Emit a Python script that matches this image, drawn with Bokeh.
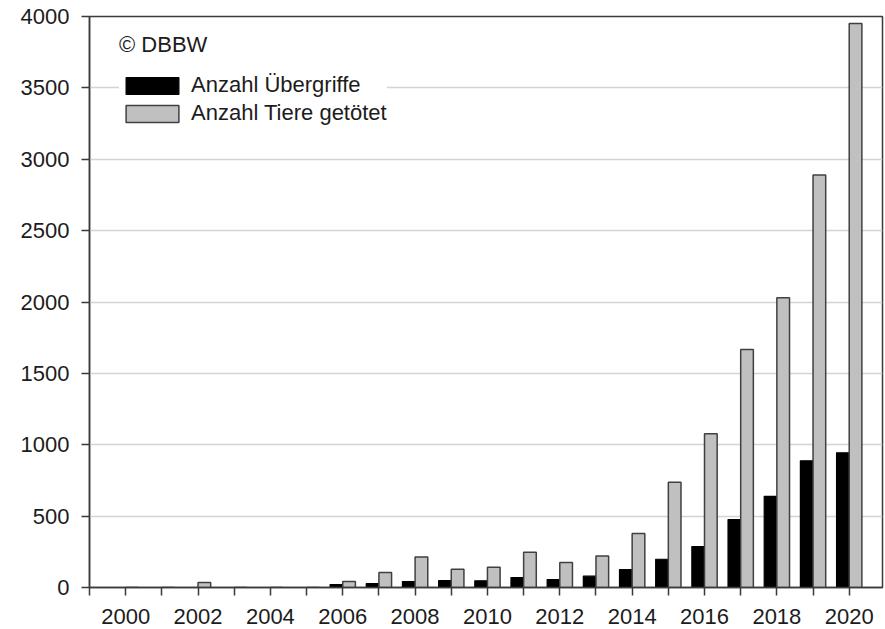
from bokeh.plotting import figure
from bokeh.models import Range1d, FixedTicker, Legend, LegendItem, ColumnDataSource
from bokeh.transform import dodge
from bokeh.embed import file_html
from bokeh.resources import INLINE

years = list(range(2000, 2021))
uebergriffe = [0, 0, 0, 0, 0, 0, 21, 28, 42, 48, 47, 70, 56, 79, 126, 198, 287, 476, 639, 888, 944]
tiere = [0, 0, 35, 0, 0, 0, 42, 105, 214, 128, 142, 247, 175, 221, 378, 737, 1077, 1668, 2029, 2890, 3951]
label_ueber = "Anzahl Übergriffe"
label_tiere = "Anzahl Tiere getötet"
credit = "© DBBW"

src = ColumnDataSource(dict(year=years, ueber=uebergriffe, tiere=tiere))

FONT = "Liberation Sans"
TXT = "#1c1c1c"
AX = "#3a3a3a"

p = figure(width=884, height=629, output_backend="svg", toolbar_location=None,
           x_range=Range1d(1999, 2020.92), y_range=Range1d(0, 4000),
           min_border_left=89, min_border_right=2, min_border_top=16, min_border_bottom=42)

bw = 0.35
r1 = p.vbar(x=dodge("year", -bw / 2, range=p.x_range), top="ueber", width=bw, source=src,
            fill_color="black", line_color="black", line_width=1.2)
r2 = p.vbar(x=dodge("year", bw / 2, range=p.x_range), top="tiere", width=bw, source=src,
            fill_color="#c0c0c0", line_color="#404040", line_width=1.5)

# axes
p.xaxis.ticker = FixedTicker(ticks=list(range(2000, 2021, 2)),
                             minor_ticks=list(range(1999, 2022, 2)))
p.yaxis.ticker = FixedTicker(ticks=list(range(0, 4001, 500)))
for ax in (p.xaxis, p.yaxis):
    ax.axis_line_color = AX
    ax.axis_line_width = 1.5
    ax.major_tick_line_color = AX
    ax.major_tick_line_width = 1.5
    ax.major_tick_in = 0
    ax.major_tick_out = 8
    ax.major_label_text_font = FONT
    ax.major_label_text_font_size = "22px"
    ax.major_label_text_color = TXT
    ax.major_label_standoff = 12
p.xaxis.minor_tick_line_color = AX
p.xaxis.minor_tick_line_width = 1.5
p.xaxis.minor_tick_in = 0
p.xaxis.minor_tick_out = 8
p.xaxis.major_label_standoff = 13
p.yaxis.minor_tick_line_color = None

p.xgrid.grid_line_color = None
p.ygrid.grid_line_color = "#d4d4d4"
p.ygrid.grid_line_width = 1.5

p.outline_line_color = AX
p.outline_line_width = 1.5
p.background_fill_color = "white"
p.border_fill_color = "white"

legend = Legend(items=[LegendItem(label=label_ueber, renderers=[r1]),
                       LegendItem(label=label_tiere, renderers=[r2])],
                title=credit, location=(30, 461))
legend.title_text_font = FONT
legend.title_text_font_size = "22px"
legend.title_text_font_style = "normal"
legend.title_text_color = TXT
legend.title_standoff = 14
legend.label_text_font = FONT
legend.label_text_font_size = "22px"
legend.label_text_color = TXT
legend.glyph_width = 66
legend.glyph_height = 21
legend.label_standoff = 6
legend.label_height = 17
legend.spacing = 2
legend.padding = 16
legend.margin = 0
legend.border_line_color = None
legend.background_fill_color = "white"
legend.background_fill_alpha = 1.0
p.add_layout(legend)

open("out.html", "w").write(file_html(p, INLINE))
